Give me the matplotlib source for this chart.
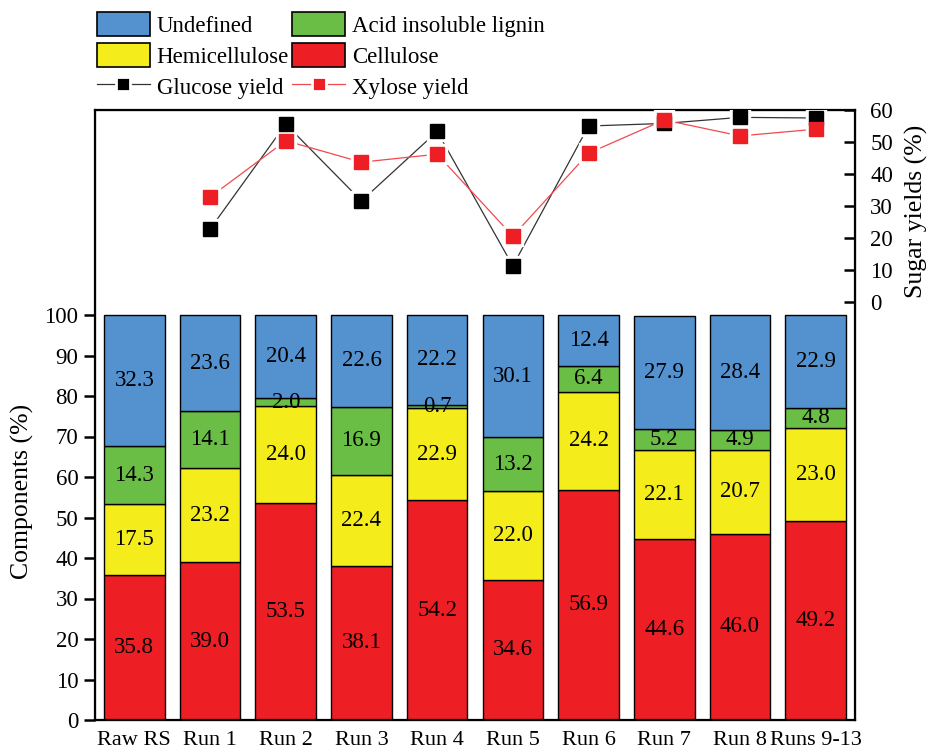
import matplotlib
matplotlib.use("Agg")
import matplotlib.pyplot as plt
from matplotlib.patches import Patch
from matplotlib.lines import Line2D
import numpy as np

plt.rcParams['font.family'] = ['Liberation Serif', 'DejaVu Serif']
plt.rcParams['mathtext.fontset'] = 'stix'

categories = ["Raw RS", "Run 1", "Run 2", "Run 3", "Run 4", "Run 5",
              "Run 6", "Run 7", "Run 8", "Runs 9-13"]
cellulose = [35.8, 39.0, 53.5, 38.1, 54.2, 34.6, 56.9, 44.6, 46.0, 49.2]
hemicellulose = [17.5, 23.2, 24.0, 22.4, 22.9, 22.0, 24.2, 22.1, 20.7, 23.0]
lignin = [14.3, 14.1, 2.0, 16.9, 0.7, 13.2, 6.4, 5.2, 4.9, 4.8]
undefined = [32.3, 23.6, 20.4, 22.6, 22.2, 30.1, 12.4, 27.9, 28.4, 22.9]

yield_runs = ["Run 1", "Run 2", "Run 3", "Run 4", "Run 5", "Run 6",
              "Run 7", "Run 8", "Runs 9-13"]
glucose_yield = [22.8, 55.6, 31.6, 53.3, 11.3, 55.0, 55.8, 57.7, 57.5]
xylose_yield = [32.8, 50.4, 43.7, 46.2, 20.6, 46.5, 56.9, 51.9, 54.0]

c_blue = "#5391CF"
c_green = "#6ABD45"
c_yellow = "#F4EC1B"
c_red = "#ED1F24"

fig = plt.figure(figsize=(9.28, 7.51), dpi=100)
W, H = 928, 751
ax = fig.add_axes([95 / W, 1 - 720 / H, 760 / W, 610 / H])

x = np.arange(len(categories))
bw = 0.8
bottom = np.zeros(len(categories))
for vals, col in [(cellulose, c_red), (hemicellulose, c_yellow),
                  (lignin, c_green), (undefined, c_blue)]:
    vals = np.array(vals)
    ax.bar(x, vals, bw, bottom=bottom, color=col, edgecolor="black",
           linewidth=1.0, zorder=2)
    for xi, b, v in zip(x, bottom, vals):
        ax.text(xi, b + v / 2, f"{v:.1f}", ha="center", va="center",
                fontsize=16.5, zorder=3)
    bottom = bottom + vals

ax.set_xlim(-0.52, 9.52)
ax.set_ylim(0, 610 / 4.05)
ax.set_yticks(range(0, 101, 10))
ax.set_xticks(x)
ax.set_xticklabels(categories, fontsize=16)
ax.tick_params(axis="x", length=0, pad=8)
ax.tick_params(axis="y", direction="out", length=8, width=1.8, labelsize=16.5, pad=4)
for s in ax.spines.values():
    s.set_linewidth(1.6)
ax.set_ylabel("Components (%)", fontsize=18.5, va="center")
ax.yaxis.set_label_coords(-0.095, 0.374)

ax2 = ax.twinx()
ax2.set_ylim(-(720 - 302.3) / 3.2, 60)
ax2.set_yticks(range(0, 61, 10))
ax2.tick_params(axis="y", direction="in", length=8, width=1.8, labelsize=16.5, pad=11)
ax2.set_ylabel("Sugar yields (%)", fontsize=18.5, va="center")
ax2.yaxis.set_label_coords(1.081, 0.833)

xy = np.array([categories.index(r) for r in yield_runs])
for ys, lc, mc in [(glucose_yield, "#333333", "black"),
                   (xylose_yield, "#F04A4E", c_red)]:
    ax2.plot(xy, ys, "-", color=lc, linewidth=0.9, zorder=3)
    ax2.plot(xy, ys, "s", color="white", markersize=15, zorder=4)
    ax2.plot(xy, ys, "s", color=mc, markersize=10, zorder=5)

handles = [
    Patch(facecolor=c_blue, edgecolor="black", linewidth=1.2, label="Undefined"),
    Patch(facecolor=c_yellow, edgecolor="black", linewidth=1.2, label="Hemicellulose"),
    Line2D([], [], color="#333333", linewidth=0.9, marker="s", markersize=10,
           markerfacecolor="black", markeredgecolor="white", markeredgewidth=2,
           label="Glucose yield"),
    Patch(facecolor=c_green, edgecolor="black", linewidth=1.2, label="Acid insoluble lignin"),
    Patch(facecolor=c_red, edgecolor="black", linewidth=1.2, label="Cellulose"),
    Line2D([], [], color="#F04A4E", linewidth=0.9, marker="s", markersize=10,
           markerfacecolor=c_red, markeredgecolor="white", markeredgewidth=2,
           label="Xylose yield"),
]
fig.legend(handles=handles, ncol=2, loc="upper left",
           bbox_to_anchor=(97 / W, 1 - 12 / H), frameon=False, fontsize=16.5,
           handlelength=2.3, handleheight=1.25, handletextpad=0.3,
           columnspacing=0.15, labelspacing=0.28, borderpad=0, borderaxespad=0)

fig.savefig("out.png", dpi=100)
